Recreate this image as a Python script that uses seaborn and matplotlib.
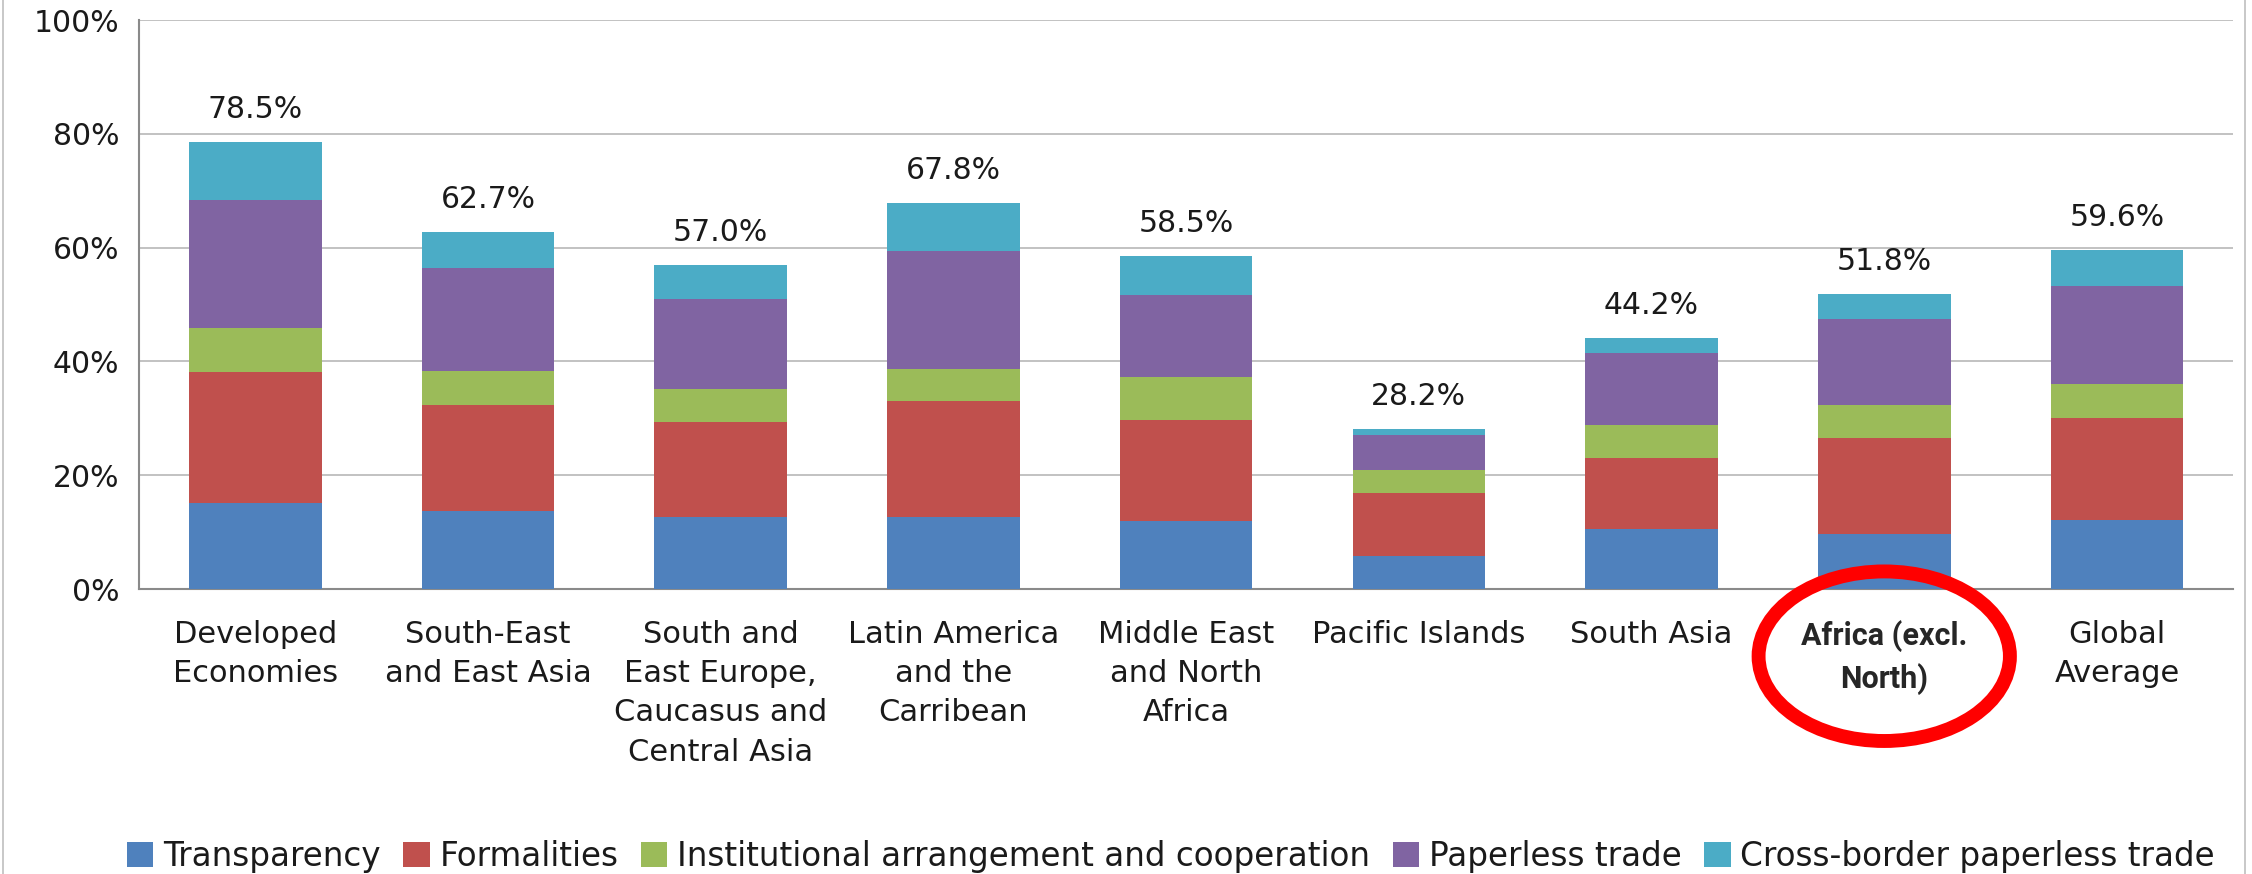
"""Trade facilitation implementation by region - stacked bars"""

import matplotlib
matplotlib.use("Agg")
import numpy as np
import matplotlib.pyplot as plt
import seaborn as sns
from matplotlib.patches import Ellipse, Patch
from matplotlib.lines import Line2D
from matplotlib.ticker import PercentFormatter, FixedLocator

regions = ["Developed Economies", "South-East and East Asia",
           "South and East Europe, Caucasus and Central Asia",
           "Latin America and the Carribean", "Middle East and North Africa",
           "Pacific Islands", "South Asia", "Africa (excl. North)", "Global Average"]
tick_labels = ["Developed\nEconomies", "South-East\nand East Asia",
               "South and\nEast Europe,\nCaucasus and\nCentral Asia",
               "Latin America\nand the\nCarribean", "Middle East\nand North\nAfrica",
               "Pacific Islands", "South Asia", "Africa (excl.\nNorth)", "Global\nAverage"]
components = ["Transparency", "Formalities", "Institutional arrangement and cooperation",
              "Paperless trade", "Cross-border paperless trade"]

transparency = [15.1, 13.7, 12.6, 12.6, 11.9, 5.8, 10.6, 9.6, 12.1]
formalities = [23.0, 18.6, 16.7, 20.5, 17.8, 11.0, 12.4, 16.9, 18.0]
institutional = [7.8, 6.1, 5.9, 5.5, 7.6, 4.1, 5.9, 5.8, 6.0]
paperless = [22.4, 18.1, 15.7, 20.9, 14.3, 6.1, 12.6, 15.2, 17.1]
cross_border = [10.2, 6.2, 6.1, 8.3, 6.9, 1.2, 2.7, 4.3, 6.4]
totals = [78.5, 62.7, 57.0, 67.8, 58.5, 28.2, 44.2, 51.8, 59.6]

colors = ["#4F81BD", "#C0504D", "#9BBB59", "#8064A2", "#4BACC6"]
highlight = "Africa (excl. North)"

sns.set_style("white")
plt.rcParams["font.family"] = ["DejaVu Sans"]

fig = plt.figure(figsize=(22.52, 8.74), dpi=100)
ax = fig.add_axes([0.0617, 0.326, 0.9300, 0.651])

# cumulative layers, drawn from the top down so each one covers the part below
layers = np.cumsum(np.array([transparency, formalities, institutional,
                             paperless, cross_border]), axis=0)
for i in reversed(range(len(components))):
    sns.barplot(x=tick_labels, y=layers[i], color=colors[i], saturation=1,
                width=0.57, linewidth=0, ax=ax, zorder=3)

ax.bar_label(ax.containers[0], labels=[f"{t:.1f}%" for t in totals],
             padding=13, fontsize=21.5, color="#1a1a1a")

ax.set_xlim(-0.5, len(regions) - 0.5)
ax.set_ylim(0, 100)
ax.set_yticks(np.arange(0, 101, 20))
ax.yaxis.set_major_formatter(PercentFormatter(100, decimals=0))
ax.yaxis.grid(True, color="#bdbdbd", lw=1.3, zorder=0)
ax.set_axisbelow(True)
ax.set_xlabel("")
ax.set_ylabel("")

for side in ["top", "right"]:
    ax.spines[side].set_visible(False)
for side in ["left", "bottom"]:
    ax.spines[side].set_color("#8a8a8a")
    ax.spines[side].set_linewidth(1.5)

ax.tick_params(axis="y", length=8, width=1.3, color="#8a8a8a",
               labelsize=21.5, labelcolor="#1a1a1a", pad=6)
ax.tick_params(axis="x", which="major", length=0, labelsize=22,
               labelcolor="#1a1a1a", pad=22)
ax.xaxis.set_minor_locator(FixedLocator(np.arange(-0.5, len(regions), 1)))
ax.tick_params(axis="x", which="minor", length=11, width=1.3, color="#8a8a8a")
for lab in ax.get_xticklabels():
    lab.set_linespacing(1.45)
    if lab.get_text().replace("\n", " ") == highlight:
        lab.set_family(["Roboto", "DejaVu Sans"])
        lab.set_fontweight("bold")
        lab.set_color("#262626")

# red ring around the highlighted region
idx = regions.index(highlight)
ax.add_patch(Ellipse((idx, -11.8), 1.08, 29.8, fill=False, edgecolor="red",
                     lw=10, clip_on=False, zorder=5))

handles = [Patch(facecolor=c, edgecolor="none", label=n) for c, n in zip(colors, components)]
fig.legend(handles=handles, loc="center", bbox_to_anchor=(0.52, 0.02), ncol=5,
           frameon=False, fontsize=23.5, handlelength=0.8, handleheight=0.8,
           handletextpad=0.3, columnspacing=0.7, labelcolor="#1a1a1a")

# thin chart-area border on the sides
for xb in (0.0015, 0.997):
    fig.add_artist(Line2D([xb, xb], [0, 1], transform=fig.transFigure,
                          color="#bfbfbf", lw=1.2))

fig.savefig("out.png", dpi=100)
